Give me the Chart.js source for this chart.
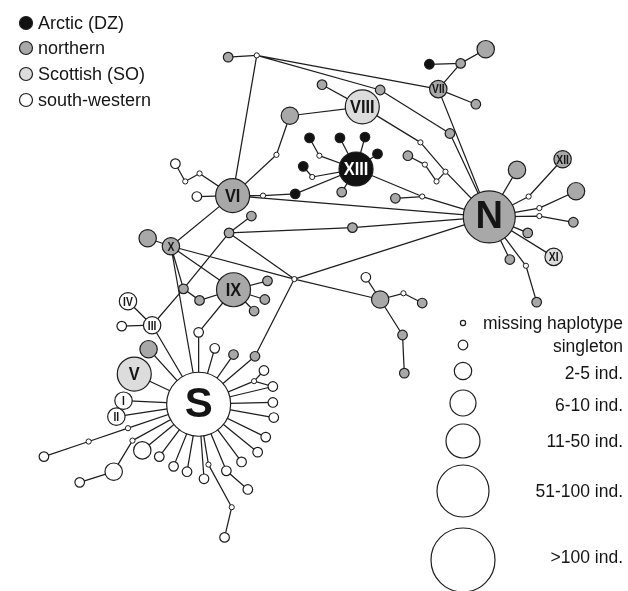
<!DOCTYPE html>
<html>
<head>
<meta charset="utf-8">
<script src="https://cdn.jsdelivr.net/npm/chart.js"></script>
<style>
html, body { margin: 0; padding: 0; background: #fff; }
canvas { display: block; }
</style>
</head>
<body>
<canvas id="net" width="628" height="591"></canvas>
<script>
// haplotypes (ids, position, group, size class)
var hapId = [
	"n1","m1","n3","VII","n5","n6","a7","n8","n9","VIII",
	"n11","n12","m13","VI","w15","m16","m17","w18","m19","a20",
	"XIII","a22","m23","a24","a25","a26","n27","a28","m29","m30",
	"n31","N","m33","m34","m35","m36","n37","n38","m39","XII",
	"m41","n42","m43","n44","n45","XI","n47","m48","n49","n50",
	"n51","n52","m53","X","n55","IX","n57","n58","n59","n60",
	"n61","III","IV","w64","w65","n66","w67","m68","n69","n70",
	"n71","S","n73","V","w75","n76","n77","m78","w79","w80",
	"w81","w82","w83","w84","w85","w86","w87","m88","m89","w90",
	"w91","w92","w93","w94","w95","m96","w97","w98","m99","m100",
	"w101","II","I"
];
var hapX = [
	218,250,388,453,478,506,443,495,466,368,
	323,287,272,223,183,186,170,159,257,293,
	361,309,320,343,371,385,345,302,312,435,
	405,510,433,461,451,438,419,541,554,592,
	566,607,566,604,553,582,533,551,563,357,
	219,244,292,154,128,224,262,259,247,186,
	168,133,106,99,185,388,372,414,435,413,
	415,185,129,113,203,224,248,247,258,268,
	268,269,260,251,233,216,240,196,222,214,
	191,172,157,141,122,111,90,52,106,62,
	12,93,101
];
var hapY = [
	27,25,64,63,34,18,35,80,113,83,
	58,93,137,183,184,158,167,147,183,181,
	153,118,138,118,117,136,179,150,162,184,
	186,207,123,156,167,148,138,154,184,142,
	197,178,206,213,225,252,255,262,303,219,
	225,206,277,240,231,289,279,300,313,301,
	288,329,302,330,337,300,275,293,304,340,
	383,418,356,384,355,362,364,392,380,398,
	416,433,455,472,483,493,514,486,534,568,
	502,494,488,477,470,459,494,506,445,460,
	477,432,414
];
// A arctic, N northern, SO scottish, SW south-western, M missing
var hapGroup = [
	"N","M","N","N","N","N","A","N","N","SO",
	"N","N","M","N","SW","M","M","SW","M","A",
	"A","A","M","A","A","A","N","A","M","M",
	"N","N","M","M","M","M","N","N","M","N",
	"M","N","M","N","N","SO","N","M","N","N",
	"N","N","M","N","N","N","N","N","N","N",
	"N","SW","SW","SW","SW","N","SW","M","N","N",
	"N","SW","N","SO","SW","N","N","M","SW","SW",
	"SW","SW","SW","SW","SW","SW","SW","M","M","SW",
	"SW","SW","SW","SW","SW","M","SW","SW","M","M",
	"SW","SW","SW"
];
// 0 missing, 1 singleton, 2 "2-5", 3 "6-10", 4 "11-50", 5 "51-100", 6 ">100"
var hapSize = [
	1,0,1,2,1,2,1,1,1,4,
	1,2,0,4,1,0,0,1,0,1,
	4,1,0,1,1,1,1,1,0,0,
	1,5,0,0,0,0,1,2,0,2,
	0,2,0,1,1,2,1,0,1,1,
	1,1,0,2,2,4,1,1,1,1,
	1,2,2,1,1,2,1,0,1,1,
	1,6,2,4,1,1,1,0,1,1,
	1,1,1,1,1,1,1,0,0,1,
	1,1,1,1,2,0,2,1,0,0,
	1,2,2
];
var links = [
	["n1","m1"],["m1","n3"],["m1","VII"],["m1","VI"],
	["VII","n5"],["n5","n6"],["a7","n5"],["VII","n8"],["VII","N"],
	["n3","n9"],["n9","N"],
	["VIII","n11"],["VIII","n12"],["VIII","m33"],["m33","m34"],["m34","N"],["m34","m35"],["m35","m36"],["m36","n37"],
	["n12","m13"],["m13","VI"],
	["VI","w15"],["VI","m16"],["m16","m17"],["m17","w18"],
	["VI","m19"],["m19","a20"],["a20","XIII"],
	["XIII","m23"],["m23","a22"],["XIII","a24"],["XIII","a25"],["XIII","a26"],["XIII","n27"],["XIII","m29"],["m29","a28"],
	["XIII","m30"],["m30","n31"],["m30","N"],
	["VI","N"],
	["N","n38"],["N","m39"],["m39","XII"],["N","m41"],["m41","n42"],["N","m43"],["m43","n44"],["N","n45"],["N","XI"],["N","n47"],["N","m48"],["m48","n49"],
	["n51","n50"],["n50","N"],["n51","n52"],["n51","m53"],["n51","n61"],
	["m53","N"],["m53","n66"],["m53","n77"],["X","m53"],
	["VI","X"],["X","n55"],["X","IX"],["X","n61"],["X","S"],
	["IX","n57"],["IX","n58"],["IX","n59"],["IX","n60"],["n60","n61"],["n61","III"],["IX","w65"],["w65","S"],
	["III","IV"],["III","w64"],["III","S"],
	["n66","w67"],["n66","m68"],["m68","n69"],["n66","n70"],["n70","n71"],
	["S","n73"],["S","V"],["S","w75"],["S","n76"],["S","n77"],["S","m78"],["m78","w79"],["m78","w80"],["S","w80"],
	["S","w81"],["S","w82"],["S","w83"],["S","w84"],["S","w85"],["S","w86"],["w86","w87"],
	["S","m88"],["m88","m89"],["m89","w90"],["S","w91"],["S","w92"],["S","w93"],["S","w94"],["S","w95"],
	["S","m96"],["m96","w97"],["w97","w98"],["S","m99"],["m99","m100"],["m100","w101"],["S","II"],["S","I"]
];
var groupKeys = ["A","N","SO","SW","M"];
var groupNames = ["Arctic (DZ)","northern","Scottish (SO)","south-western"];
var sizeNames = ["missing haplotype","singleton","2-5 ind.","6-10 ind.","11-50 ind.","51-100 ind.",">100 ind."];
var namedHaps = ["I","II","III","IV","V","VI","VII","VIII","IX","X","XI","XII","XIII","N","S"];

// looks
var fillOf = {A:"#111111", N:"#a8a8a8", SO:"#dcdcdc", SW:"#ffffff", M:"#ffffff"};
var radiusOf = [2.6, 4.8, 8.7, 13, 17, 26, 32];
var ink = "#1e1e1e";

var byId = {};
for (var i = 0; i < hapId.length; i++) byId[hapId[i]] = i;

var datasets = [];
groupKeys.forEach(function (g) {
	var pts = [], rad = [];
	for (var i = 0; i < hapId.length; i++) {
		if (hapGroup[i] !== g) continue;
		pts.push({x: hapX[i], y: hapY[i], id: hapId[i], size: hapSize[i]});
		rad.push(radiusOf[hapSize[i]]);
	}
	datasets.push({
		label: g,
		data: pts,
		pointRadius: rad,
		pointBackgroundColor: fillOf[g],
		pointBorderColor: ink,
		pointBorderWidth: g == "M" ? 1 : 1.2,
		order: 0
	});
});

var edgePts = [];
links.forEach(function (l) {
	var a = byId[l[0]], b = byId[l[1]];
	if (a === undefined || b === undefined) { console.log("bad link", l); return; }
	edgePts.push({x: hapX[a], y: hapY[a]}, {x: hapX[b], y: hapY[b]}, {x: hapX[b], y: null});
});
datasets.push({
	label: "links",
	data: edgePts,
	showLine: true,
	spanGaps: false,
	pointRadius: 0,
	borderColor: ink,
	borderWidth: 1.25,
	order: 5
});

var drawCircle = function (ctx, x, y, r, fill) {
	ctx.beginPath();
	ctx.arc(x, y, r, 0, Math.PI * 2);
	ctx.fillStyle = fill;
	ctx.fill();
	ctx.lineWidth = 1.2;
	ctx.strokeStyle = ink;
	ctx.stroke();
};

var labelsAndKeys = {
	id: "labelsAndKeys",
	afterDatasetsDraw: function (chart) {
		var ctx = chart.ctx;
		var sx = chart.scales.x, sy = chart.scales.y;
		ctx.save();
		ctx.textAlign = "center";
		ctx.textBaseline = "middle";
		for (var i = 0; i < hapId.length; i++) {
			if (namedHaps.indexOf(hapId[i]) < 0) continue;
			var px = sx.getPixelForValue(hapX[i]), py = sy.getPixelForValue(hapY[i]);
			var s = hapSize[i], r = radiusOf[s];
			ctx.fillStyle = hapGroup[i] == "A" ? "#ffffff" : "#151515";
			if (s >= 5) {
				ctx.font = "bold " + (s == 6 ? 42 : 38) + "px 'Liberation Sans', Arial, sans-serif";
				ctx.fillText(hapId[i], px, py + 1);
				continue;
			}
			// roman numerals: bold, squeezed to look condensed
			ctx.font = "bold " + (s == 4 ? 19 : 12) + "px 'Liberation Sans', Arial, sans-serif";
			var w = ctx.measureText(hapId[i]).width;
			var k = Math.min(0.86, 1.45 * r / w);
			ctx.save();
			ctx.translate(px, py + 1);
			ctx.scale(k, 1);
			ctx.fillText(hapId[i], 0, 0);
			ctx.restore();
		}
		// group key, top left
		var rowY = [23, 48, 74, 100];
		ctx.textAlign = "left";
		ctx.font = "18px 'Liberation Sans', Arial, sans-serif";
		for (var g = 0; g < groupNames.length; g++) {
			drawCircle(ctx, 26, rowY[g], 6.5, fillOf[groupKeys[g]]);
			ctx.fillStyle = "#151515";
			ctx.fillText(groupNames[g], 38, rowY[g] + 1);
		}
		// size key, lower right
		var keyY = [323, 345, 371, 403, 441, 491, 560];
		var textY = [324, 347, 374, 406, 442, 492, 558];
		ctx.textAlign = "right";
		ctx.font = "17.5px 'Liberation Sans', Arial, sans-serif";
		for (var j = 0; j < sizeNames.length; j++) {
			drawCircle(ctx, 463, keyY[j], radiusOf[j], "#ffffff");
			ctx.fillStyle = "#151515";
			ctx.fillText(sizeNames[j], 623, textY[j]);
		}
		ctx.restore();
	}
};

new Chart("net", {
	type: "scatter",
	data: { datasets: datasets },
	options: {
		responsive: false,
		animation: false,
		events: [],
		layout: { padding: 0 },
		scales: {
			x: { type: "linear", min: 0, max: 628, display: false },
			y: { type: "linear", min: 0, max: 591, reverse: true, display: false }
		},
		plugins: {
			legend: { display: false },
			tooltip: { enabled: false }
		}
	},
	plugins: [labelsAndKeys]
});
</script>
</body>
</html>
